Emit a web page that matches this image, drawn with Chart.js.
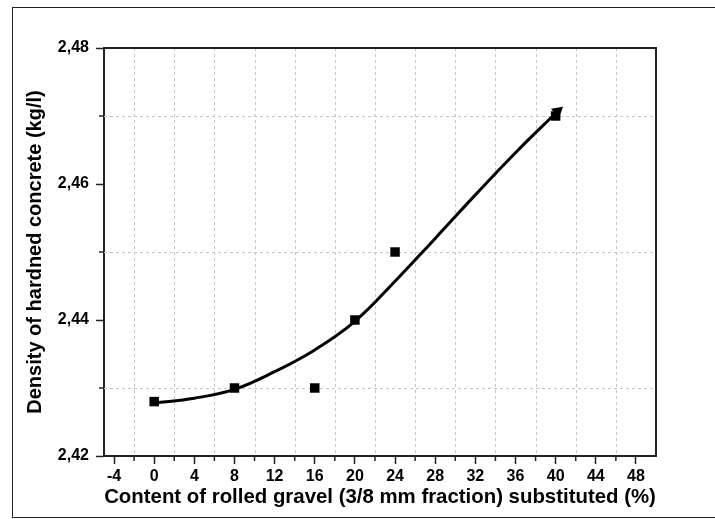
<!DOCTYPE html>
<html>
<head>
<meta charset="utf-8">
<script src="https://cdn.jsdelivr.net/npm/chart.js@4.4.1/dist/chart.umd.min.js"></script>
<style>
  html, body { margin: 0; padding: 0; background: #fff; }
  #wrap { position: relative; width: 715px; height: 519px; overflow: hidden; }
  #frame { position: absolute; left: 12px; top: 7px; width: 720px; height: 509px; border: 1px solid #222; }
  canvas { position: absolute; left: 0; top: 0; }
</style>
</head>
<body>
<div id="wrap">
  <div id="frame"></div>
  <canvas id="densityChart" width="715" height="519"></canvas>
</div>
<script>
// measured points
const gravelContent = [0, 8, 16, 20, 24, 40];
const density = [2.428, 2.430, 2.430, 2.440, 2.450, 2.470];

// fitted curve
const fitX = [0, 4, 8, 12, 16, 20, 24, 28, 32, 36, 40.2];
const fitY = [2.4278, 2.4285, 2.4298, 2.4324, 2.4356, 2.4398, 2.4457, 2.4520, 2.4584, 2.4646, 2.4707];

// tick values
const xMajorTicks = [-4, 0, 4, 8, 12, 16, 20, 24, 28, 32, 36, 40, 44, 48];
const xMinorTicks = [-2, 2, 6, 10, 14, 18, 22, 26, 30, 34, 38, 42, 46];
const yMajorTicks = [2.42, 2.44, 2.46, 2.48];
const yMinorTicks = [2.43, 2.45, 2.47];

Chart.defaults.font.family = '"Liberation Sans", Arial, sans-serif';
Chart.defaults.font.weight = 'bold';
Chart.defaults.color = '#000';

// dashed grid at the minor positions, minor ticks and the box round the plot
const minorGrid = {
    id: 'minorGrid',
    beforeDatasetsDraw(chart) {
        const ctx = chart.ctx;
        const a = chart.chartArea;
        const x = chart.scales.x;
        const y = chart.scales.y;
        ctx.save();
        ctx.strokeStyle = '#c4c4c4';
        ctx.lineWidth = 1;
        ctx.setLineDash([3, 3]);
        xMinorTicks.forEach(v => {
            const px = Math.round(x.getPixelForValue(v)) + 0.5;
            ctx.beginPath();
            ctx.moveTo(px, a.top);
            ctx.lineTo(px, a.bottom);
            ctx.stroke();
        });
        yMinorTicks.forEach(v => {
            const py = Math.round(y.getPixelForValue(v)) + 0.5;
            ctx.beginPath();
            ctx.moveTo(a.left, py);
            ctx.lineTo(a.right, py);
            ctx.stroke();
        });
        ctx.setLineDash([]);

        ctx.strokeStyle = '#222';
        ctx.lineWidth = 1.5;
        xMinorTicks.forEach(v => {
            const px = x.getPixelForValue(v);
            ctx.beginPath();
            ctx.moveTo(px, a.bottom);
            ctx.lineTo(px, a.bottom + 5);
            ctx.stroke();
        });
        yMinorTicks.forEach(v => {
            const py = y.getPixelForValue(v);
            ctx.beginPath();
            ctx.moveTo(a.left - 5, py);
            ctx.lineTo(a.left, py);
            ctx.stroke();
        });

        ctx.lineWidth = 2;
        ctx.beginPath();
        ctx.moveTo(a.left, a.top);
        ctx.lineTo(a.right, a.top);
        ctx.lineTo(a.right, a.bottom);
        ctx.stroke();
        ctx.restore();
    }
};

const lastFit = fitX.length - 1;

new Chart(document.getElementById('densityChart'), {
    type: 'scatter',
    data: {
        datasets: [
            {
                label: 'fit',
                data: fitX.map((v, i) => ({ x: v, y: fitY[i] })),
                showLine: true,
                borderColor: '#000',
                backgroundColor: '#000',
                borderWidth: 3,
                tension: 0.4,
                pointStyle: c => c.dataIndex === lastFit ? 'triangle' : 'circle',
                pointRadius: c => c.dataIndex === lastFit ? 7 : 0,
                pointRotation: 50,
                pointBorderWidth: 0
            },
            {
                label: 'density',
                data: gravelContent.map((v, i) => ({ x: v, y: density[i] })),
                pointStyle: 'rect',
                pointRadius: 6.7,
                pointBorderWidth: 0,
                backgroundColor: '#000',
                borderColor: '#000'
            }
        ]
    },
    options: {
        responsive: false,
        animation: false,
        devicePixelRatio: 1,
        layout: { padding: { left: 23, right: 59, top: 48, bottom: 9 } },
        plugins: {
            legend: { display: false },
            tooltip: { enabled: false }
        },
        scales: {
            x: {
                type: 'linear',
                min: -5,
                max: 50,
                afterBuildTicks: s => { s.ticks = xMajorTicks.map(v => ({ value: v })); },
                afterFit: s => { s.height = 54; },
                ticks: { font: { size: 16, weight: 'bold' }, padding: 3, maxRotation: 0 },
                grid: { drawOnChartArea: false, tickLength: 8, tickColor: '#222', tickWidth: 1.5 },
                border: { color: '#222', width: 2 },
                title: {
                    display: true,
                    text: 'Content of rolled gravel (3/8 mm fraction) substituted (%)',
                    font: { size: 20.4, weight: 'bold' },
                    padding: 0
                }
            },
            y: {
                type: 'linear',
                min: 2.42,
                max: 2.48,
                afterBuildTicks: s => { s.ticks = yMajorTicks.map(v => ({ value: v })); },
                afterFit: s => { s.width = 81; },
                ticks: {
                    font: { size: 16, weight: 'bold' },
                    padding: 7,
                    callback: v => v.toFixed(2).replace('.', ',')
                },
                grid: { drawOnChartArea: false, tickLength: 8, tickColor: '#222', tickWidth: 1.5 },
                border: { color: '#222', width: 2 },
                title: {
                    display: true,
                    text: 'Density of hardned concrete (kg/l)',
                    font: { size: 20, weight: 'bold' },
                    padding: 0
                }
            }
        }
    },
    plugins: [minorGrid]
});
</script>
</body>
</html>
